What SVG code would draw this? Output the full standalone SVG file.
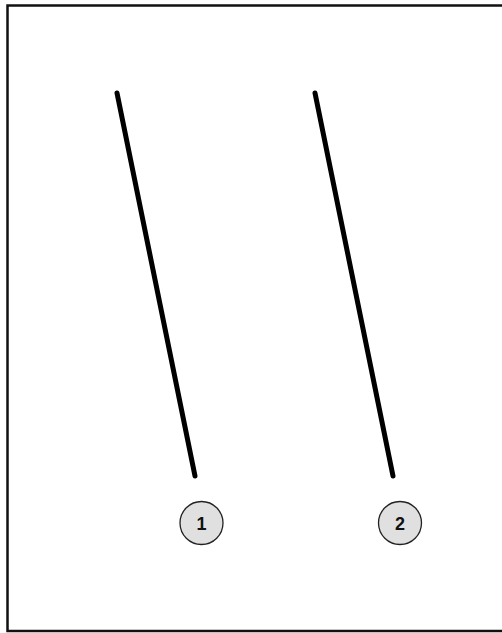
<svg xmlns="http://www.w3.org/2000/svg" width="502" height="633" viewBox="0 0 502 633">
  <style>
    .frame { fill: none; stroke: #111; stroke-width: 2.5; }
    .rod { stroke: #000; stroke-width: 5; stroke-linecap: round; fill: none; }
    .disc { fill: #e0e0e0; stroke: #222; stroke-width: 1.3; }
    .num { font-family: "Liberation Sans", Arial, sans-serif; font-size: 18px; font-weight: bold; fill: #111; text-anchor: middle; }
  </style>
  <rect width="502" height="633" fill="#fff"/>
  <!-- outer border (open on the right) -->
  <path class="frame" d="M503 5.5 H7.5 V631 H503"/>
  <g id="connectors">
    <line class="rod" x1="117" y1="93" x2="195" y2="476"/>
    <line class="rod" x1="315" y1="93" x2="393" y2="476"/>
  </g>
  <g id="node-1">
    <circle class="disc" cx="201.5" cy="523" r="21.5"/>
    <text class="num" x="201.5" y="529.5" font-size="18">1</text>
  </g>
  <g id="node-2">
    <circle class="disc" cx="400" cy="523" r="21.5"/>
    <text class="num" x="400" y="529.5" font-size="18">2</text>
  </g>
</svg>
